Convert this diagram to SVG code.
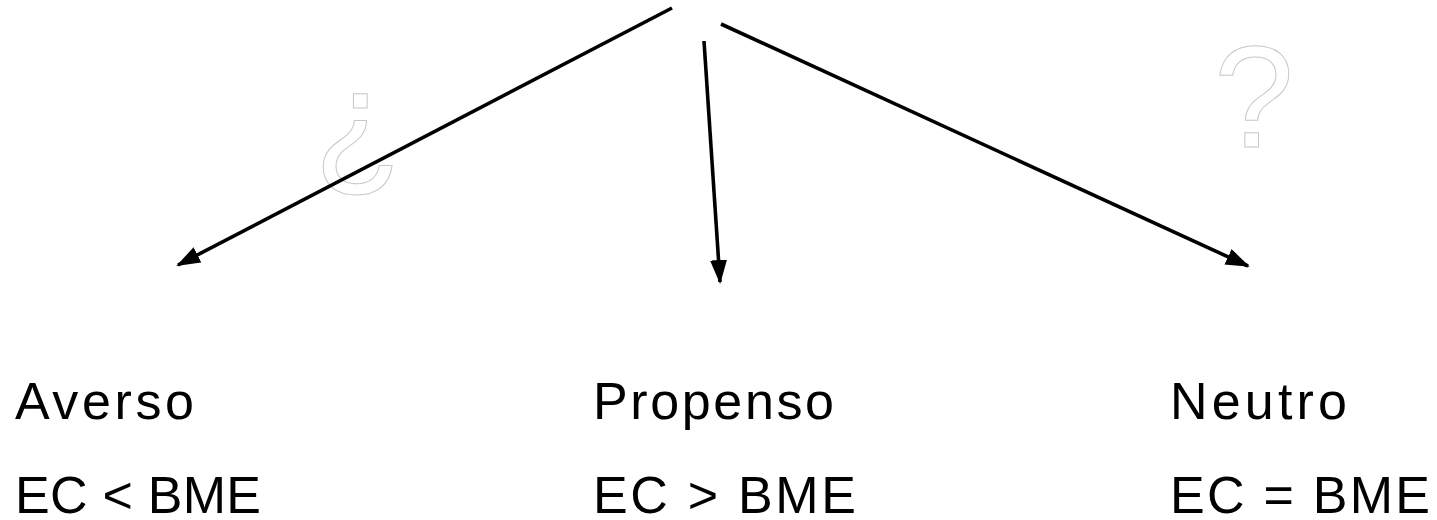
<svg xmlns="http://www.w3.org/2000/svg" width="1437" height="520" viewBox="0 0 1437 520">
  <style>
    .label { font-family: "Liberation Sans", Arial, sans-serif; font-size: 52px; fill: #000; }
    .mark { font-family: "Liberation Sans", Arial, sans-serif; font-size: 144px; fill: #fff; stroke: #c8c8c8; stroke-width: 1; }
    .edge { stroke: #000; stroke-width: 3.6; fill: none; marker-end: url(#arrow); }
  </style>
  <defs>
    <marker id="arrow" markerUnits="userSpaceOnUse" markerWidth="26" markerHeight="20" refX="22" refY="8.5" orient="auto">
      <path d="M0,0 L24,8.5 L0,17 Z" fill="#000"/>
    </marker>
  </defs>
  <rect width="1437" height="520" fill="#fff"/>

  <!-- decorative outlined question marks -->
  <g id="marks">
    <text class="mark" x="314" y="170">¿</text>
    <text class="mark" x="1214" y="147">?</text>
  </g>

  <!-- connectors -->
  <g id="connectors">
    <line class="edge" x1="672" y1="8" x2="178" y2="265"/>
    <line class="edge" x1="704" y1="41" x2="720" y2="282"/>
    <line class="edge" x1="721" y1="24" x2="1248" y2="266"/>
  </g>

  <g id="averso">
    <text class="label" x="15" y="419" textLength="179" lengthAdjust="spacing">Averso</text>
    <text class="label" x="15" y="513" textLength="246" lengthAdjust="spacing">EC &lt; BME</text>
  </g>
  <g id="propenso">
    <text class="label" x="593" y="419" textLength="241" lengthAdjust="spacing">Propenso</text>
    <text class="label" x="593" y="513" textLength="263" lengthAdjust="spacing">EC &gt; BME</text>
  </g>
  <g id="neutro">
    <text class="label" x="1170" y="419" textLength="177" lengthAdjust="spacing">Neutro</text>
    <text class="label" x="1170" y="513" textLength="260" lengthAdjust="spacing">EC = BME</text>
  </g>
</svg>
